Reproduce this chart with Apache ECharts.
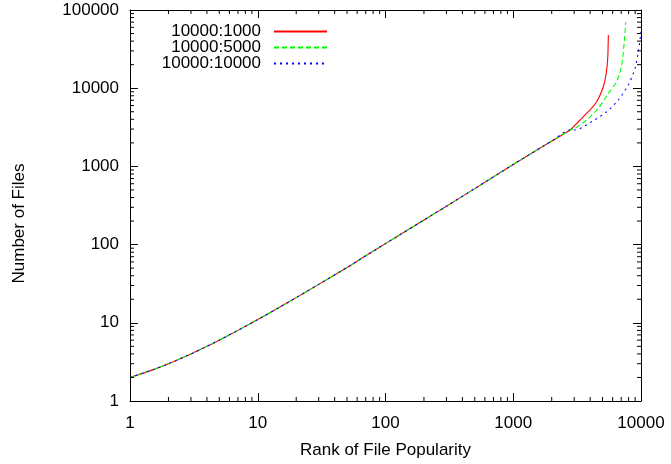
<!DOCTYPE html>
<html>
<head>
<meta charset="utf-8">
<script src="https://cdn.jsdelivr.net/npm/echarts@6/dist/echarts.min.js"></script>
<style>
  html, body { margin: 0; padding: 0; background: #fff; }
  #chart { width: 671px; height: 464px; }
</style>
</head>
<body>
<div id="chart"></div>
<script>
// ---- data ----
const seriesNames = ['10000:1000', '10000:5000', '10000:10000'];

// part shared by all three curves
const sharedRank  = [1, 1.5, 2, 3, 4, 5, 7, 10, 15, 20, 30, 50, 70, 100, 200, 300, 500, 1000, 2000, 2780];
const sharedFiles = [2, 2.5, 3, 4, 5, 6, 8, 11, 16, 21, 31, 51, 72, 103, 206, 310, 520, 1060, 2110, 2920];

// 10000:1000 tail
const rankA  = [3333, 3870, 4500, 5070, 5320, 5490, 5550];
const filesA = [3920, 5000, 6720, 10450, 14760, 24100, 47900];
// 10000:5000 tail
const rankB  = [3043, 3757, 4634, 5550, 6450, 7060, 7400, 7590];
const filesB = [3070, 3920, 5530, 8590, 12100, 19800, 39300, 69600];
// 10000:10000 tail
const rankC  = [3043, 4110, 5390, 6640, 7960, 8980, 9530, 10000];
const filesC = [2920, 3730, 5000, 7070, 11000, 17950, 29300, 52700];

const xTickLabels = ['1', '10', '100', '1000', '10000'];
const yTickLabels = ['1', '10', '100', '1000', '10000', '100000'];
const minorMultipliers = [2, 3, 4, 5, 6, 7, 8, 9];
const xDecades = [1, 10, 100, 1000];
const yDecades = [1, 10, 100, 1000, 10000];

// ---- build ----
function pairs(xs, ys) { return xs.map((x, i) => [x, ys[i]]); }
const dataA = pairs(sharedRank.concat(rankA), sharedFiles.concat(filesA));
const dataB = pairs(sharedRank.concat(rankB), sharedFiles.concat(filesB));
const dataC = pairs(sharedRank.concat(rankC), sharedFiles.concat(filesC));

const xMinor = [];
xDecades.forEach(d => minorMultipliers.forEach(m => xMinor.push([d * m, 1])));
const yMinor = [];
yDecades.forEach(d => minorMultipliers.forEach(m => yMinor.push([1, d * m])));

const XMIN = 1, XMAX = 10000, YMIN = 1, YMAX = 100000;
const FONT = 'Liberation Sans, Arial, Helvetica, sans-serif';
const FS = 17;
const MINOR_LEN = 4;

const chart = echarts.init(document.getElementById('chart'), null, { renderer: 'canvas' });

const commonAxis = {
  type: 'log', logBase: 10,
  axisLine: { show: true, onZero: false, lineStyle: { color: '#000', width: 1 } },
  axisTick: { show: true, inside: true, length: 8, lineStyle: { color: '#000', width: 1 } },
  splitLine: { show: false },
  minorTick: { show: false },
  minorSplitLine: { show: false }
};

function fmt(v) { return String(Math.round(v)); }

const option = {
  animation: false,
  backgroundColor: '#fff',
  textStyle: { fontFamily: FONT },
  grid: { left: 130, right: 30, top: 10, bottom: 63, containLabel: false },
  legend: {
    orient: 'vertical',
    align: 'right',
    right: 343,
    top: 23,
    padding: 0,
    itemGap: -1,
    itemWidth: 53,
    itemHeight: 10,
    selectedMode: false,
    data: seriesNames,
    itemStyle: { opacity: 0 },
    textStyle: { fontSize: FS, color: '#000', fontFamily: FONT, lineHeight: 17, padding: [0, 8, 0, 0] }
  },
  xAxis: [
    Object.assign({}, commonAxis, {
      min: XMIN, max: XMAX, position: 'bottom',
      name: 'Rank of File Popularity', nameLocation: 'middle', nameGap: 41,
      nameTextStyle: { fontSize: FS, color: '#000', fontFamily: FONT },
      axisLabel: { fontSize: FS, color: '#000', margin: 14, fontFamily: FONT,
        formatter: v => xTickLabels.indexOf(fmt(v)) >= 0 ? fmt(v) : '' }
    }),
    Object.assign({}, commonAxis, {
      min: XMIN, max: XMAX, position: 'top', axisLabel: { show: false }
    })
  ],
  yAxis: [
    Object.assign({}, commonAxis, {
      min: YMIN, max: YMAX, position: 'left',
      name: 'Number of Files', nameLocation: 'middle', nameGap: 102,
      nameTextStyle: { fontSize: FS, color: '#000', fontFamily: FONT, padding: [0, 36, 0, 0] },
      axisLabel: { fontSize: FS, color: '#000', margin: 11, fontFamily: FONT,
        formatter: v => yTickLabels.indexOf(fmt(v)) >= 0 ? fmt(v) : '' }
    }),
    Object.assign({}, commonAxis, {
      min: YMIN, max: YMAX, position: 'right', axisLabel: { show: false }
    })
  ],
  series: [
    {
      name: seriesNames[0], type: 'line', data: dataA, xAxisIndex: 0, yAxisIndex: 0,
      symbol: 'none', showSymbol: false, smooth: 0.25,
      lineStyle: { color: '#ff0000', width: 1.1, type: 'solid' },
      itemStyle: { color: '#ff0000' }, z: 3
    },
    {
      name: seriesNames[1], type: 'line', data: dataB, xAxisIndex: 0, yAxisIndex: 0,
      symbol: 'none', showSymbol: false, smooth: 0.25,
      lineStyle: { color: '#00ff00', width: 1.1, type: [5, 3] },
      itemStyle: { color: '#00ff00' }, z: 4
    },
    {
      name: seriesNames[2], type: 'line', data: dataC, xAxisIndex: 0, yAxisIndex: 0,
      symbol: 'none', showSymbol: false, smooth: 0.25,
      lineStyle: { color: '#0000ff', width: 1.1, type: [2, 4] },
      itemStyle: { color: '#0000ff' }, z: 5
    },
    {
      name: 'xMinorTicks', type: 'custom', data: xMinor, xAxisIndex: 0, yAxisIndex: 0,
      silent: true, clip: false, z: 6,
      renderItem: function (params, api) {
        const v = api.value(0);
        const b = api.coord([v, YMIN]);
        const t = api.coord([v, YMAX]);
        const st = { stroke: '#000', lineWidth: 1 };
        return { type: 'group', children: [
          { type: 'line', shape: { x1: b[0], y1: b[1], x2: b[0], y2: b[1] - MINOR_LEN }, style: st },
          { type: 'line', shape: { x1: t[0], y1: t[1], x2: t[0], y2: t[1] + MINOR_LEN }, style: st }
        ] };
      }
    },
    {
      name: 'yMinorTicks', type: 'custom', data: yMinor, xAxisIndex: 0, yAxisIndex: 0,
      silent: true, clip: false, z: 6,
      renderItem: function (params, api) {
        const v = api.value(1);
        const l = api.coord([XMIN, v]);
        const r = api.coord([XMAX, v]);
        const st = { stroke: '#000', lineWidth: 1 };
        return { type: 'group', children: [
          { type: 'line', shape: { x1: l[0], y1: l[1], x2: l[0] + MINOR_LEN, y2: l[1] }, style: st },
          { type: 'line', shape: { x1: r[0], y1: r[1], x2: r[0] - MINOR_LEN, y2: r[1] }, style: st }
        ] };
      }
    }
  ]
};

chart.setOption(option);
</script>
</body>
</html>
